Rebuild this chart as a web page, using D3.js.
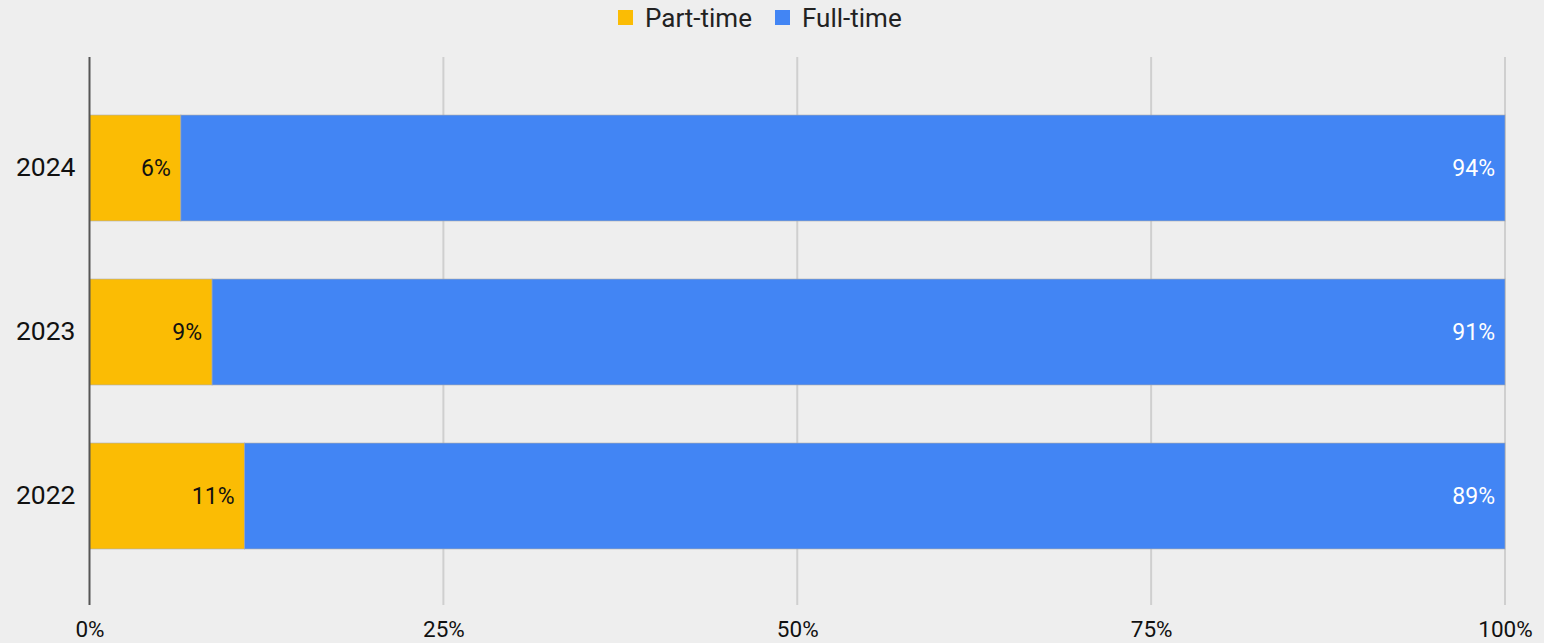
<!DOCTYPE html>
<html>
<head>
<meta charset="utf-8">
<script src="https://cdn.jsdelivr.net/npm/d3@7"></script>
<style>
  html, body { margin: 0; padding: 0; background: #eeeeee; }
  svg { display: block; font-family: Roboto, "Noto Sans", sans-serif; }
</style>
</head>
<body>
<svg id="chart" width="1544" height="643"></svg>
<script>
// Share of employment type by year (percent)
const years = ["2024", "2023", "2022"];
const partTime = [6.45, 8.66, 10.95];
const fullTime = [93.55, 91.34, 89.05];
const seriesNames = ["Part-time", "Full-time"];
const seriesColors = ["#fbbc04", "#4285f4"];
const tickValues = [0, 25, 50, 75, 100];

const svg = d3.select("#chart");

const plot = { left: 89.5, right: 1505, top: 57, bottom: 605 };

const x = d3.scaleLinear().domain([0, 100]).range([plot.left, plot.right]);
const y = d3.scaleBand().domain(years).range([86, 578]).paddingInner(0.354).paddingOuter(0.177);

// Gridlines
svg.append("g")
  .selectAll("line")
  .data(tickValues.filter(d => d !== 0))
  .join("line")
  .attr("x1", d => x(d)).attr("x2", d => x(d))
  .attr("y1", plot.top).attr("y2", plot.bottom)
  .attr("stroke", "#cfcfcf")
  .attr("stroke-width", 2);

// Stacked bars
const rows = years.map((yr, i) => ({ year: yr, values: [partTime[i], fullTime[i]] }));
const stacked = rows.map(r => {
  let acc = 0;
  return r.values.map((v, k) => {
    const seg = { year: r.year, k, v, x0: acc, x1: acc + v };
    acc += v;
    return seg;
  });
}).flat();

svg.append("g")
  .selectAll("rect")
  .data(stacked)
  .join("rect")
  .attr("x", d => x(d.x0))
  .attr("width", d => x(d.x1) - x(d.x0))
  .attr("y", d => y(d.year))
  .attr("height", y.bandwidth())
  .attr("fill", d => seriesColors[d.k])
  .attr("stroke", "rgba(170,170,170,0.6)")
  .attr("stroke-width", 1);

// Value labels, right-aligned inside each segment
svg.append("g")
  .selectAll("text")
  .data(stacked)
  .join("text")
  .attr("x", d => x(d.x1) - 10)
  .attr("y", d => y(d.year) + y.bandwidth() / 2)
  .attr("dy", "0.36em")
  .attr("text-anchor", "end")
  .attr("font-size", 23)
  .attr("fill", d => d.k === 0 ? "#111111" : "#ffffff")
  .text(d => Math.round(d.v) + "%");

// Zero baseline
svg.append("line")
  .attr("x1", x(0)).attr("x2", x(0))
  .attr("y1", plot.top).attr("y2", plot.bottom)
  .attr("stroke", "#555555")
  .attr("stroke-width", 2);

// Category labels
const yAxis = d3.axisLeft(y).tickSize(0).tickPadding(14);
const gy = svg.append("g").attr("transform", `translate(${plot.left},0)`).call(yAxis);
gy.select(".domain").remove();
gy.selectAll("text")
  .attr("font-size", 26.5)
  .attr("font-family", "Roboto, sans-serif")
  .attr("fill", "#111111");

// Value axis labels
const xAxis = d3.axisBottom(x).tickValues(tickValues).tickSize(0).tickPadding(0)
  .tickFormat(d => d + "%");
const gx = svg.append("g").attr("transform", `translate(0,${plot.bottom + 16})`).call(xAxis);
gx.select(".domain").remove();
gx.selectAll("text")
  .attr("font-size", 22.5)
  .attr("font-family", "Roboto, sans-serif")
  .attr("fill", "#111111");

// Legend
const legend = svg.append("g");
const legendItems = [
  { name: seriesNames[0], color: seriesColors[0], sx: 618, tx: 645 },
  { name: seriesNames[1], color: seriesColors[1], sx: 775, tx: 802 }
];
legendItems.forEach(it => {
  legend.append("rect")
    .attr("x", it.sx).attr("y", 10)
    .attr("width", 15).attr("height", 15)
    .attr("fill", it.color);
  legend.append("text")
    .attr("x", it.tx).attr("y", 18)
    .attr("dy", "0.36em")
    .attr("font-size", 26)
    .attr("fill", "#222222")
    .text(it.name);
});
</script>
</body>
</html>
